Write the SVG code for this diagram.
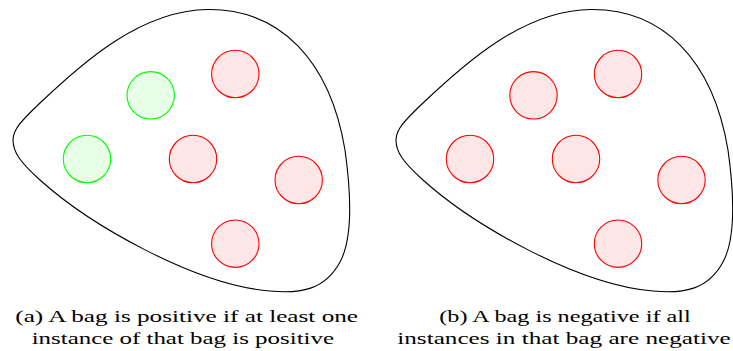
<svg xmlns="http://www.w3.org/2000/svg" width="733" height="351" viewBox="0 0 733 351">
<style>
.bag{fill:none;stroke:#000;stroke-width:1.1}
.pos{fill:#e6ffe6;stroke:#00ff00;stroke-width:1.1}
.neg{fill:#ffe6e6;stroke:#ff0000;stroke-width:1.1}
.cap{font-size:16.5px;fill:#000}
</style>
<defs>
<path id="bagshape" d="M 13,140 C 13,130 20,122 40,103 C 80,65 140,10 208,9.5 C 280,9 330,60 345,150 C 352,200 352,240 340,262 C 325,290 300,294 270,291 C 195,285 90,225 40,180 C 20,162 13,152 13,140 Z"/>
</defs>
<g id="bag-a">
<use href="#bagshape" class="bag"/>
<g id="a-pos1"><circle class="pos" cx="150.7" cy="95.3" r="23.7"/></g>
<g id="a-pos2"><circle class="pos" cx="87" cy="159" r="23.7"/></g>
<g id="a-neg1"><circle class="neg" cx="235.3" cy="74" r="23.7"/></g>
<g id="a-neg2"><circle class="neg" cx="193" cy="159" r="23.7"/></g>
<g id="a-neg3"><circle class="neg" cx="298.7" cy="180" r="23.7"/></g>
<g id="a-neg4"><circle class="neg" cx="235.3" cy="243.7" r="23.7"/></g>
</g>
<g id="bag-b">
<use href="#bagshape" class="bag" transform="translate(383,0)"/>
<g id="b-neg1"><circle class="neg" cx="470" cy="159" r="23.7"/></g>
<g id="b-neg2"><circle class="neg" cx="533.5" cy="95.3" r="23.7"/></g>
<g id="b-neg3"><circle class="neg" cx="618" cy="74" r="23.7"/></g>
<g id="b-neg4"><circle class="neg" cx="576" cy="159" r="23.7"/></g>
<g id="b-neg5"><circle class="neg" cx="681.5" cy="180" r="23.7"/></g>
<g id="b-neg6"><circle class="neg" cx="618" cy="243.7" r="23.7"/></g>
</g>
<g id="connectors"></g>
<g id="captions" font-family="Liberation Serif, DejaVu Serif, serif">
<text class="cap" x="15.3" y="322" textLength="342.7" lengthAdjust="spacingAndGlyphs">(a) A bag is positive if at least one</text>
<text class="cap" x="31.7" y="344" textLength="302.3" lengthAdjust="spacingAndGlyphs">instance of that bag is positive</text>
<text class="cap" x="439.3" y="322" textLength="251.4" lengthAdjust="spacingAndGlyphs">(b) A bag is negative if all</text>
<text class="cap" x="397.3" y="344" textLength="333.4" lengthAdjust="spacingAndGlyphs">instances in that bag are negative</text>
</g>
</svg>
